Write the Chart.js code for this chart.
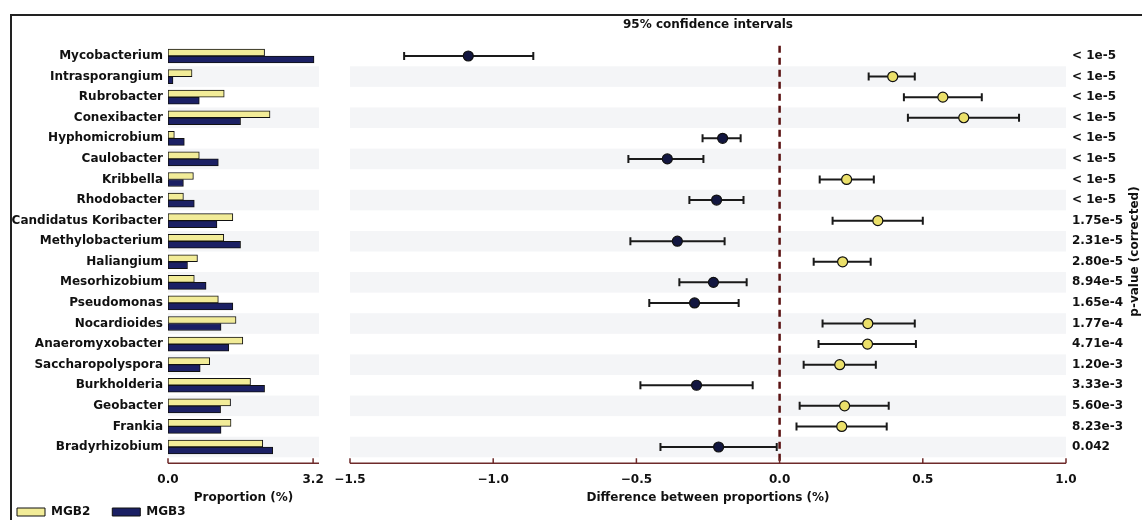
<!DOCTYPE html>
<html>
<head>
<meta charset="utf-8">
<script src="https://cdn.jsdelivr.net/npm/chart.js@4.4.0/dist/chart.umd.min.js"></script>
<style>
  html, body { margin: 0; padding: 0; background: #fff; width: 1142px; height: 520px; overflow: hidden; }
  #marco { position: absolute; left: 10px; top: 14px; width: 1140px; height: 520px; border-left: 2px solid #222; border-top: 2px solid #222; }
  canvas { position: absolute; top: 0; }
  #proporciones { left: -5px; }
  #diferencias { left: 316px; }
</style>
</head>
<body>
<div id="marco"></div>
<canvas id="proporciones" width="345" height="520"></canvas>
<canvas id="diferencias" width="826" height="520"></canvas>
<script>
const taxa = ['Mycobacterium', 'Intrasporangium', 'Rubrobacter', 'Conexibacter', 'Hyphomicrobium',
    'Caulobacter', 'Kribbella', 'Rhodobacter', 'Candidatus Koribacter', 'Methylobacterium',
    'Haliangium', 'Mesorhizobium', 'Pseudomonas', 'Nocardioides', 'Anaeromyxobacter',
    'Saccharopolyspora', 'Burkholderia', 'Geobacter', 'Frankia', 'Bradyrhizobium'];

// mean proportion (%)
const mgb2 = [2.13, 0.53, 1.24, 2.25, 0.14, 0.69, 0.56, 0.34, 1.43, 1.23, 0.65, 0.58, 1.11, 1.50, 1.65, 0.92, 1.82, 1.38, 1.39, 2.09];
const mgb3 = [3.22, 0.11, 0.69, 1.60, 0.36, 1.11, 0.34, 0.58, 1.08, 1.60, 0.43, 0.84, 1.43, 1.17, 1.34, 0.71, 2.13, 1.16, 1.17, 2.31];

// difference between proportions and 95% CI
const diff = [-1.087, 0.395, 0.570, 0.643, -0.199, -0.392, 0.234, -0.220, 0.343, -0.357, 0.220, -0.231, -0.297, 0.308, 0.307, 0.210, -0.290, 0.227, 0.217, -0.213];
const ciLow = [-1.311, 0.311, 0.434, 0.448, -0.269, -0.528, 0.140, -0.315, 0.185, -0.521, 0.119, -0.350, -0.455, 0.150, 0.136, 0.084, -0.486, 0.070, 0.059, -0.416];
const ciHigh = [-0.860, 0.472, 0.706, 0.836, -0.136, -0.266, 0.329, -0.126, 0.500, -0.192, 0.318, -0.115, -0.143, 0.472, 0.476, 0.336, -0.094, 0.381, 0.374, -0.010];

const pValues = ['< 1e-5', '< 1e-5', '< 1e-5', '< 1e-5', '< 1e-5', '< 1e-5', '< 1e-5', '< 1e-5',
    '1.75e-5', '2.31e-5', '2.80e-5', '8.94e-5', '1.65e-4', '1.77e-4', '4.71e-4', '1.20e-3',
    '3.33e-3', '5.60e-3', '8.23e-3', '0.042'];

const propTicks = [0, 3.2];
const diffTicks = [-1.5, -1.0, -0.5, 0.0, 0.5, 1.0];

document.addEventListener('DOMContentLoaded', () => {

    /*
    =====================================
    COMMON
    =====================================
    */

    Chart.defaults.font.family = '"DejaVu Sans", sans-serif';
    Chart.defaults.font.size = 12;
    Chart.defaults.font.weight = 'bold';
    Chart.defaults.color = '#111';

    const amarillo = '#f2ec98';
    const azul = '#1b2064';
    const amarilloPunto = '#ebe06a';
    const azulPunto = '#121640';

    const fmt = v => (v < 0 ? '\u2212' : '') + Math.abs(v).toFixed(1);

    // alternating row bands
    const bandas = {
        id: 'bandas',
        beforeDatasetsDraw(chart) {
            const { ctx, chartArea, scales: { y } } = chart;
            const paso = y.getPixelForValue(1) - y.getPixelForValue(0);
            ctx.save();
            ctx.fillStyle = '#f4f5f7';
            taxa.forEach((t, i) => {
                if (i % 2 === 0) return;
                const yc = y.getPixelForValue(i);
                ctx.fillRect(chartArea.left, yc - paso / 2, chartArea.right - chartArea.left, paso);
            });
            ctx.restore();
        }
    };

    // bottom spine, a bit below the plot, ticks pointing up
    const eje = {
        id: 'eje',
        afterDraw(chart) {
            const { ctx, chartArea, scales: { x } } = chart;
            const yb = chartArea.bottom + 6;
            ctx.save();
            ctx.strokeStyle = '#6e2a2a';
            ctx.lineWidth = 1.5;
            ctx.beginPath();
            ctx.moveTo(chartArea.left, yb);
            ctx.lineTo(chartArea.right, yb);
            x.ticks.forEach(t => {
                const px = x.getPixelForValue(t.value);
                ctx.moveTo(px, yb);
                ctx.lineTo(px, yb - 5);
            });
            ctx.stroke();
            ctx.restore();
        }
    };

    /*
    =====================================
    PROPORTIONS
    =====================================
    */

    new Chart(document.getElementById('proporciones'), {
        type: 'bar',
        data: {
            labels: taxa,
            datasets: [
                { label: 'MGB2', data: mgb2, backgroundColor: amarillo, borderColor: '#111', borderWidth: 1, borderSkipped: false, barThickness: 7 },
                { label: 'MGB3', data: mgb3, backgroundColor: azul, borderColor: '#111', borderWidth: 1, borderSkipped: false, barThickness: 7 }
            ]
        },
        options: {
            indexAxis: 'y',
            responsive: false,
            animation: false,
            layout: { padding: { top: 45.7, right: 21, left: 0, bottom: 0 } },
            plugins: {
                legend: {
                    position: 'bottom',
                    align: 'start',
                    maxHeight: 36,
                    labels: { boxWidth: 28, boxHeight: 8, padding: 22, color: '#111' }
                },
                tooltip: { enabled: false }
            },
            scales: {
                x: {
                    min: 0,
                    max: 3.33,
                    afterBuildTicks: s => { s.ticks = propTicks.map(v => ({ value: v })); },
                    ticks: { padding: 15, callback: v => fmt(v) },
                    grid: { display: false, drawTicks: false },
                    border: { display: false },
                    title: { display: true, text: 'Proportion (%)', padding: { top: 0, bottom: -21 } },
                    afterFit: s => { s.height = 26.7; }
                },
                y: {
                    ticks: { padding: 5 },
                    grid: { display: false, drawTicks: false },
                    border: { display: false },
                    afterFit: s => { s.width = 173; }
                }
            }
        },
        plugins: [bandas, eje]
    });

    /*
    =====================================
    DIFFERENCES
    =====================================
    */

    const intervalos = {
        id: 'intervalos',
        beforeDatasetsDraw(chart) {
            const { ctx, chartArea, scales: { x, y } } = chart;
            const x0 = x.getPixelForValue(0);
            ctx.save();
            ctx.strokeStyle = '#5a1212';
            ctx.lineWidth = 2.5;
            ctx.setLineDash([7, 5]);
            ctx.beginPath();
            ctx.moveTo(x0, chartArea.top);
            ctx.lineTo(x0, chartArea.bottom + 6);
            ctx.stroke();
            ctx.setLineDash([]);
            ctx.strokeStyle = '#1a1a1a';
            ctx.lineWidth = 2;
            diff.forEach((d, i) => {
                const yc = y.getPixelForValue(i);
                const a = x.getPixelForValue(ciLow[i]);
                const b = x.getPixelForValue(ciHigh[i]);
                ctx.beginPath();
                ctx.moveTo(a, yc); ctx.lineTo(b, yc);
                ctx.moveTo(a, yc - 4); ctx.lineTo(a, yc + 4);
                ctx.moveTo(b, yc - 4); ctx.lineTo(b, yc + 4);
                ctx.stroke();
            });
            ctx.restore();
        },
        afterDraw(chart) {
            const { ctx, chartArea } = chart;
            ctx.save();
            ctx.translate(chart.width - 7, (chartArea.top + chartArea.bottom) / 2);
            ctx.rotate(-Math.PI / 2);
            ctx.font = 'bold 12px "DejaVu Sans", sans-serif';
            ctx.fillStyle = '#111';
            ctx.textAlign = 'center';
            ctx.textBaseline = 'middle';
            ctx.fillText('p-value (corrected)', 0, 0);
            ctx.restore();
        }
    };

    new Chart(document.getElementById('diferencias'), {
        type: 'scatter',
        data: {
            datasets: [{
                label: 'difference',
                data: diff.map((d, i) => ({ x: d, y: taxa[i] })),
                pointRadius: 5,
                pointHoverRadius: 5,
                pointBorderWidth: 1.2,
                pointBorderColor: '#111',
                pointBackgroundColor: diff.map(d => d < 0 ? azulPunto : amarilloPunto)
            }]
        },
        options: {
            responsive: false,
            animation: false,
            layout: { padding: { left: 34, right: 0, top: 0, bottom: 0 } },
            plugins: { legend: { display: false }, tooltip: { enabled: false } },
            scales: {
                x: {
                    type: 'linear',
                    position: 'bottom',
                    min: -1.5,
                    max: 1.0,
                    afterBuildTicks: s => { s.ticks = diffTicks.map(v => ({ value: v })); },
                    ticks: { padding: 15, callback: v => fmt(v) },
                    grid: { display: false, drawTicks: false },
                    border: { display: false },
                    title: { display: true, text: 'Difference between proportions (%)', padding: { top: 0, bottom: 15 } },
                    afterFit: s => { s.height = 62.7; }
                },
                xTop: {
                    type: 'linear',
                    position: 'top',
                    min: -1.5,
                    max: 1.0,
                    ticks: { display: false },
                    grid: { display: false, drawTicks: false },
                    border: { display: false },
                    title: { display: true, text: '95% confidence intervals', padding: { top: 18, bottom: 0 } },
                    afterFit: s => { s.height = 45.7; }
                },
                y: {
                    type: 'category',
                    labels: taxa,
                    position: 'right',
                    offset: true,
                    ticks: { padding: 6, callback: (v, i) => pValues[i] },
                    grid: { display: false, drawTicks: false },
                    border: { display: false },
                    afterFit: s => { s.width = 76; }
                }
            }
        },
        plugins: [bandas, intervalos, eje]
    });

});
</script>
</body>
</html>
